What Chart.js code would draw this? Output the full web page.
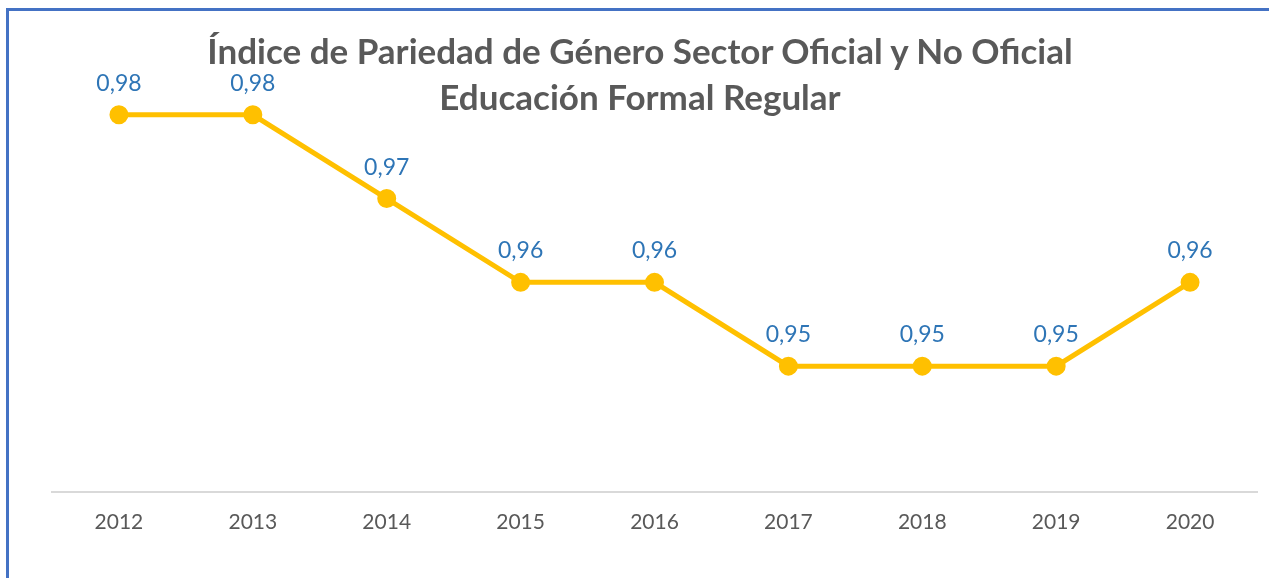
<!DOCTYPE html>
<html>
<head>
<meta charset="utf-8">
<script src="https://cdn.jsdelivr.net/npm/chart.js@4"></script>
<style>
  html,body{margin:0;padding:0;background:#fff;width:1269px;height:578px;overflow:hidden;}
  #frame{position:absolute;left:6px;top:8px;width:1300px;height:600px;border-left:3px solid #4472C4;border-top:3px solid #4472C4;box-sizing:border-box;}
  #title{position:absolute;left:0;width:1280px;top:27px;text-align:center;font-family:Lato,"Open Sans",sans-serif;font-weight:700;font-size:35px;line-height:46px;color:#595959;z-index:2;}
  #wrap{position:absolute;left:0;top:0;width:1269px;height:578px;}
</style>
</head>
<body>
<div id="frame"></div>
<div id="wrap"><canvas id="c" width="1269" height="578"></canvas></div>
<div id="title">Índice de Pariedad de Género Sector Oficial y No Oficial<br>Educación Formal Regular</div>
<script>
const categories = ["2012","2013","2014","2015","2016","2017","2018","2019","2020"];
const indexValues = [0.98,0.98,0.97,0.96,0.96,0.95,0.95,0.95,0.96];

const labelPlugin = {
  id:'valueLabels',
  afterDatasetsDraw(chart){
    const ctx = chart.ctx;
    const meta = chart.getDatasetMeta(0);
    ctx.save();
    ctx.font = '23px Lato, "Open Sans", sans-serif';
    ctx.fillStyle = '#2E75B6';
    ctx.textAlign = 'center';
    ctx.textBaseline = 'alphabetic';
    meta.data.forEach((pt,i)=>{
      const txt = indexValues[i].toFixed(2).replace('.',',');
      ctx.fillText(txt, pt.x, pt.y - 24);
    });
    ctx.restore();
  }
};

new Chart(document.getElementById('c'),{
  type:'line',
  data:{labels:categories,datasets:[{
    data:indexValues,
    borderColor:'#FFC000',
    backgroundColor:'#FFC000',
    borderWidth:5,
    pointRadius:7,
    pointHoverRadius:7,
    pointBackgroundColor:'#FFC000',
    pointBorderColor:'#FFC000',
    tension:0
  }]},
  options:{
    responsive:false,
    animation:false,
    layout:{padding:{top:31,left:52,right:10,bottom:25}},
    plugins:{legend:{display:false},tooltip:{enabled:false},title:{display:false}},
    scales:{
      x:{
        offset:true,
        grid:{display:false,drawTicks:false},
        border:{display:true,color:'#D9D9D9',width:2},
        ticks:{color:'#595959',font:{family:'Lato, "Open Sans", sans-serif',size:21},padding:18}
      },
      y:{display:false,min:0.935,max:0.99}
    }
  },
  plugins:[labelPlugin]
});
</script>
</body>
</html>
